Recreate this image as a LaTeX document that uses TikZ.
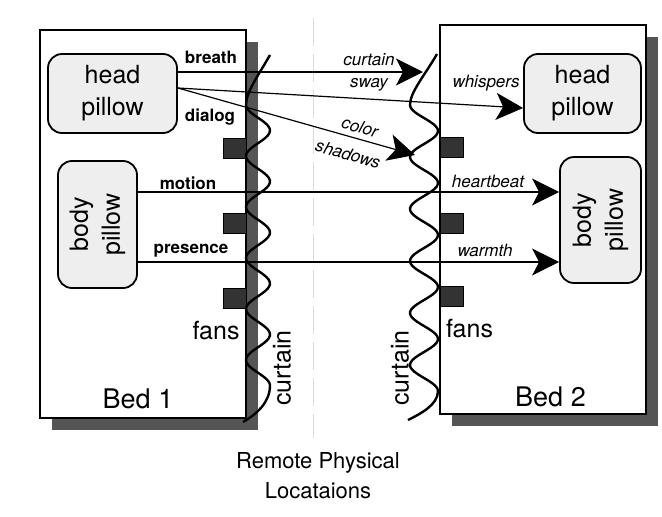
\documentclass[tikz,border=0pt]{standalone}
\usepackage{fontspec}
\setmainfont{TeX Gyre Heros}
\usetikzlibrary{arrows.meta,shadows}
\definecolor{PillowGray}{HTML}{EEEEEE}
\definecolor{ShadowGray}{HTML}{555555}
\definecolor{FanGray}{HTML}{333333}
\definecolor{DividerGray}{HTML}{DADADA}

\begin{document}
\begin{tikzpicture}[x=1pt,y=-1pt,
  bed/.style={draw, line width=2.2pt, fill=white, inner sep=0pt, minimum width=206pt,
    drop shadow={shadow xshift=12pt, shadow yshift=-12pt, fill=ShadowGray, opacity=1}},
  pillow/.style={draw, line width=1.8pt, fill=PillowGray, rounded corners=14pt, inner sep=0pt},
  fanbox/.style={draw, line width=1pt, fill=FanGray, minimum width=23pt, minimum height=20pt, inner sep=0pt},
  curtainline/.style={line width=2.4pt},
  flow/.style={line width=1.2pt, -{Stealth[length=27pt, width=27pt, inset=7pt]}},
  cue/.style={font=\fontsize{17}{20}\selectfont\bfseries, inner sep=1pt},
  effect/.style={font=\fontsize{17}{22}\selectfont\itshape, align=center, inner sep=1pt},
  big/.style={font=\fontsize{25}{32}\selectfont, align=center, inner sep=1pt},
  bedtext/.style={font=\fontsize{27}{30}\selectfont, inner sep=1pt}]
  \useasboundingbox (0,0) rectangle (662,517);
  \fill[white] (0,0) rectangle (662,517);

  % the two beds
  \node[bed, minimum height=388pt] (bed1) at (143,224) {};
  \node[bed, minimum height=389pt] (bed2) at (543,219.5) {};
  \draw[DividerGray, line width=1pt, dash pattern=on 28pt off 8pt] (313,18) -- (313,438);

  % pillows
  \node[pillow, minimum width=129pt, minimum height=79pt] (hp1) at (112.5,93.5) {};
  \node[pillow, minimum width=79pt, minimum height=127pt] (bp1) at (97.5,224.5) {};
  \node[pillow, minimum width=117pt, minimum height=79pt] (hp2) at (582.5,93.5) {};
  \node[pillow, minimum width=81pt, minimum height=126pt] (bp2) at (600.5,220) {};
  \node[big] (hp1txt) at (hp1) {head\\pillow};
  \node[big] (hp2txt) at (hp2) {head\\pillow};
  \node[big, rotate=90] (bp1txt) at (bp1) {body\\pillow};
  \node[big, rotate=90] (bp2txt) at (bp2) {body\\pillow};

  % fans
  \foreach \fy [count=\i] in {148,223,298} {
    \node[fanbox] (fanL\i) at (234.5,\fy) {};
  }
  \foreach \fy [count=\i] in {147.5,223,296} {
    \node[fanbox] (fanR\i) at (451.5,\fy) {};
  }
  \node[big] (fansL) at (216,331) {fans};
  \node[big] (fansR) at (469.5,329) {fans};

  % curtains
  \draw[curtainline] (270,55) .. controls (258,76) and (246,92) .. (246,105)
    -- plot[variable=\t, domain=105:385.5, samples=120] ({258-12*cos(7.0588*(\t-105))}, {\t})
    .. controls (270,402) and (257,414) .. (243,422);
  \draw[curtainline] (437,54) .. controls (425,75) and (410,92) .. (410,105)
    -- plot[variable=\t, domain=105:391, samples=120] ({424-14*cos(6.9231*(\t-105))}, {\t})
    .. controls (438,405) and (420,414) .. (408,420);
  \node[big, rotate=90] (curtL) at (282,368) {curtain};
  \node[big, rotate=90] (curtR) at (400,368) {curtain};

  % signals between the beds
  \coordinate (swaytip) at (423,72);
  \coordinate (shadowtip) at (415,155);
  \coordinate (motionrow) at (0,192);
  \coordinate (presencerow) at (0,262);
  \draw[flow] (hp1.east |- swaytip) -- (swaytip);
  \draw[flow] ([yshift=5.5pt]hp1.east) -- ([yshift=-14.5pt]hp2.west);
  \draw[flow] ([yshift=5.5pt]hp1.east) -- (shadowtip);
  \draw[flow] (bp1.east |- motionrow) -- (bp2.west |- motionrow);
  \draw[flow] (bp1.east |- presencerow) -- (bp2.west |- presencerow);

  \node[cue] (breathlbl) at (211,57) {breath};
  \node[cue] (dialoglbl) at (210,117) {dialog};
  \node[cue] (motionlbl) at (188,183) {motion};
  \node[cue] (presencelbl) at (191,251) {presence};
  \node[effect] (swaylbl) at (369,72) {curtain\\sway};
  \node[effect] (whisperlbl) at (486,83) {whispers};
  \node[effect, rotate=-16, inner sep=0pt] (colorlbl) at (360,127) {color};
  \node[effect, rotate=-16, inner sep=0pt] (shadowlbl) at (348,154) {shadows};
  \node[effect] (heartlbl) at (488,181) {heartbeat};
  \node[effect] (warmthlbl) at (485,250) {warmth};

  \node[bedtext] (bed1lbl) at (138,399) {Bed 1};
  \node[bedtext] (bed2lbl) at (550.5,397) {Bed 2};
  \node[align=center, font=\fontsize{22}{30}\selectfont] (remote) at (318,476) {Remote Physical\\Locataions};
\end{tikzpicture}
\end{document}
